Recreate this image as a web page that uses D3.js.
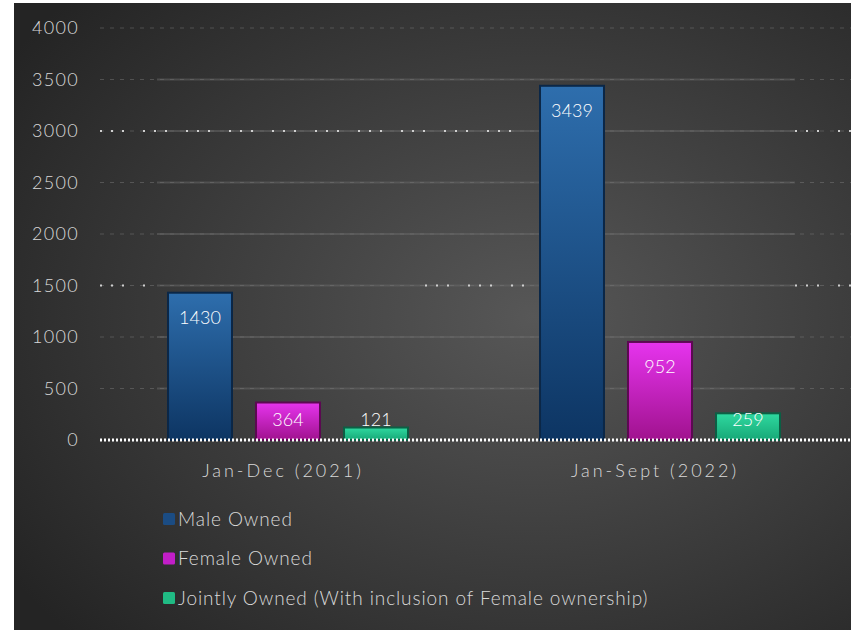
<!DOCTYPE html>
<html>
<head>
<meta charset="utf-8">
<script src="https://cdn.jsdelivr.net/npm/d3@7"></script>
<style>
  body { margin: 0; background: #fff; }
  svg text { font-family: Lato, "DejaVu Sans", sans-serif; font-weight: 300; fill: #d9d9d9; }
</style>
</head>
<body>
<svg id="chart" width="851" height="630"></svg>
<script>
// chart data
const periods = ["Jan-Dec (2021)", "Jan-Sept (2022)"];
const series = ["Male Owned", "Female Owned", "Jointly Owned (With inclusion of Female ownership)"];
const maleOwned = [1430, 3439];
const femaleOwned = [364, 952];
const jointlyOwned = [121, 259];
const yTicks = [0, 500, 1000, 1500, 2000, 2500, 3000, 3500, 4000];

const values = [maleOwned, femaleOwned, jointlyOwned];
const rows = [];
periods.forEach((p, i) => {
  series.forEach((s, j) => rows.push({ period: p, series: s, idx: j, value: values[j][i] }));
});

const svg = d3.select("#chart");
const defs = svg.append("defs");

// background gradient, lighter in the middle
const bg = defs.append("radialGradient").attr("id", "bg")
  .attr("cx", "62%").attr("cy", "50%").attr("r", "75%");
bg.append("stop").attr("offset", "0%").attr("stop-color", "#575757");
bg.append("stop").attr("offset", "100%").attr("stop-color", "#242424");

// bar gradients (top, bottom, border, legend swatch)
const barColors = [
  ["#2e6ead", "#0d3563", "#0b2747", "#1b4c83"],
  ["#e634ee", "#a0128e", "#5c0a52", "#c21ec8"],
  ["#2fd9a0", "#17a877", "#0c6045", "#20bb84"],
];
barColors.forEach((c, i) => {
  const g = defs.append("linearGradient").attr("id", "bar" + i)
    .attr("x1", 0).attr("y1", 0).attr("x2", 0).attr("y2", 1);
  g.append("stop").attr("offset", "0%").attr("stop-color", c[0]);
  g.append("stop").attr("offset", "100%").attr("stop-color", c[1]);
});

svg.append("rect")
  .attr("x", 14).attr("y", 3).attr("width", 837).attr("height", 627)
  .attr("fill", "url(#bg)");

const y = d3.scaleLinear().domain([0, 4000]).range([440, 28]);
const x0 = d3.scaleBand().domain(periods).range([102, 846]);
const x1 = d3.scaleBand().domain(series).range([0, x0.bandwidth()])
  .paddingInner(0.273).paddingOuter(0.75);

const gridLeft = 100, gridRight = 851;
const innerLeft = 157, innerRight = 795;

// dashed gridlines across the whole width
svg.append("g").selectAll("line.grid")
  .data(yTicks.filter(t => t > 0))
  .join("line")
  .attr("class", "grid")
  .attr("x1", gridLeft).attr("x2", gridRight)
  .attr("y1", d => y(d)).attr("y2", d => y(d))
  .attr("stroke", "#8a8a8a")
  .attr("stroke-opacity", 0.4)
  .attr("stroke-dasharray", "4 6");

// solid faint gridlines inside the plot panel
svg.append("g").selectAll("line.inner")
  .data(yTicks.filter(t => t > 0 && t < 4000))
  .join("line")
  .attr("class", "inner")
  .attr("x1", innerLeft).attr("x2", innerRight)
  .attr("y1", d => y(d)).attr("y2", d => y(d))
  .attr("stroke", "#6a6a6a")
  .attr("stroke-opacity", 0.5)
  .attr("stroke-width", 2);

// white dotted pieces on the 3000 and 1500 lines
const dotted = [
  { v: 3000, from: gridLeft, to: 530 },
  { v: 3000, from: innerRight, to: gridRight },
  { v: 1500, from: gridLeft, to: 150 },
  { v: 1500, from: 425, to: 530 },
  { v: 1500, from: innerRight, to: gridRight },
];
svg.append("g").selectAll("line.dot")
  .data(dotted)
  .join("line")
  .attr("x1", d => d.from).attr("x2", d => d.to)
  .attr("y1", d => y(d.v)).attr("y2", d => y(d.v))
  .attr("stroke", "#d0d0d0")
  .attr("stroke-width", 2)
  .attr("stroke-dasharray", "2 9 2 9 2 19");

// y tick labels
svg.append("g").selectAll("text.ytick")
  .data(yTicks)
  .join("text")
  .attr("x", 79)
  .attr("y", d => y(d))
  .attr("dy", "0.35em")
  .attr("text-anchor", "end")
  .attr("font-size", 18)
  .attr("letter-spacing", 1.3)
  .text(d => d);

// bars
svg.append("g").selectAll("rect.bar")
  .data(rows)
  .join("rect")
  .attr("x", d => x0(d.period) + x1(d.series))
  .attr("y", d => y(d.value))
  .attr("width", x1.bandwidth())
  .attr("height", d => y(0) - y(d.value))
  .attr("fill", d => `url(#bar${d.idx})`)
  .attr("stroke", d => barColors[d.idx][2])
  .attr("stroke-width", 2);

// value labels
svg.append("g").selectAll("text.val")
  .data(rows)
  .join("text")
  .attr("x", d => x0(d.period) + x1(d.series) + x1.bandwidth() / 2)
  .attr("y", d => Math.min(y(d.value) + 25, y(0) - 20))
  .attr("dy", "0.35em")
  .attr("text-anchor", "middle")
  .attr("font-size", 18)
  .style("fill", "#ffffff")
  .text(d => d.value);

// zero axis line
svg.append("line")
  .attr("x1", gridLeft).attr("x2", gridRight)
  .attr("y1", y(0)).attr("y2", y(0))
  .attr("stroke", "#ffffff")
  .attr("stroke-width", 3)
  .attr("stroke-dasharray", "2 2");

// category labels
svg.append("g").selectAll("text.cat")
  .data(periods)
  .join("text")
  .attr("x", d => x0(d) + x0.bandwidth() / 2 - 5)
  .attr("y", 471)
  .attr("dy", "0.35em")
  .attr("text-anchor", "middle")
  .attr("font-size", 18)
  .attr("letter-spacing", 3)
  .text(d => d);

// legend
const legend = svg.append("g").selectAll("g.leg")
  .data(series)
  .join("g")
  .attr("transform", (d, i) => `translate(163, ${519 + i * 39.5})`);

legend.append("rect")
  .attr("x", 0).attr("y", -6)
  .attr("width", 12).attr("height", 12)
  .attr("rx", 1.5)
  .attr("fill", (d, i) => barColors[i][3]);

legend.append("text")
  .attr("x", 15)
  .attr("dy", "0.35em")
  .attr("font-size", 19)
  .attr("letter-spacing", 0.9)
  .text(d => d);
</script>
</body>
</html>
